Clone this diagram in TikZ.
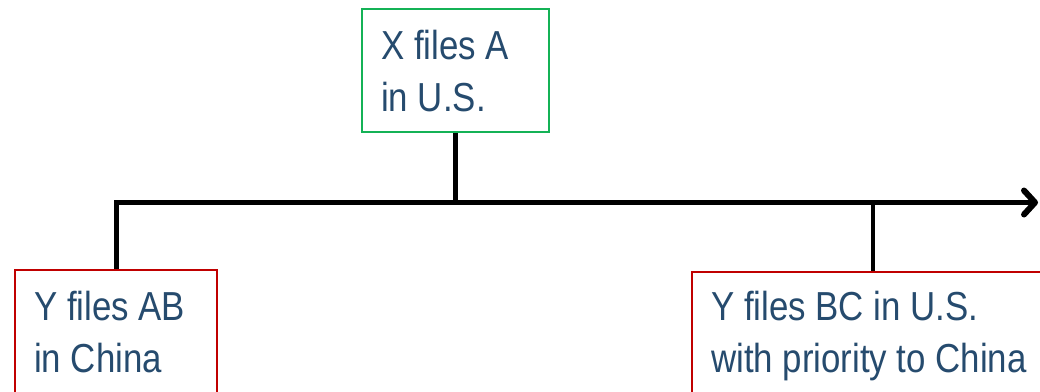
\documentclass[tikz,border=0pt]{standalone}
\usepackage{fontspec}
\setmainfont[FakeStretch=0.86]{Liberation Sans}
\usetikzlibrary{arrows.meta}
\definecolor{txtblue}{RGB}{38,75,110}
\definecolor{boxgreen}{RGB}{20,178,86}
\definecolor{boxred}{RGB}{192,0,0}
\tikzset{
  box/.style={draw, line width=2pt, fill=white, inner sep=0pt, anchor=north west},
  label/.style={text=txtblue, font=\fontsize{40.5}{52}\selectfont, align=left, inner sep=0pt, anchor=north west},
  conn/.style={line width=4.5pt, black},
}
\begin{document}
\begin{tikzpicture}[x=1pt,y=-1pt]
\clip (0,0) rectangle (1040,391);
\fill[white] (0,0) rectangle (1040,391);
% boxes
\node[box, draw=boxgreen, minimum width=187.5pt, minimum height=123pt] (xa) at (360.5,8) {};
\node[box, draw=boxred, minimum width=202pt, minimum height=160pt] (ab) at (14,269) {};
\node[box, draw=boxred, minimum width=362pt, minimum height=160pt] (bc) at (691,270.5) {};
% texts
\node[label] (xatext) at (381,30) {X files A\\in U.S.};
\node[label] (abtext) at (34,291) {Y files AB\\in China};
\node[label] (bctext) at (711,291) {Y files BC in U.S.\\with priority to China};
% timeline
\coordinate (tip) at (1038,202.5);
\draw[conn, line width=5pt, -{Straight Barb[length=11pt,width=24pt,line width'=6pt,round]}] (ab.north) |- (tip);
\coordinate (xaline) at (xa.south |- tip);
\coordinate (bcline) at (bc.north |- tip);
\draw[conn] (xa.south) -- (xaline);
\draw[conn] (bc.north) -- (bcline);
\end{tikzpicture}
\end{document}
